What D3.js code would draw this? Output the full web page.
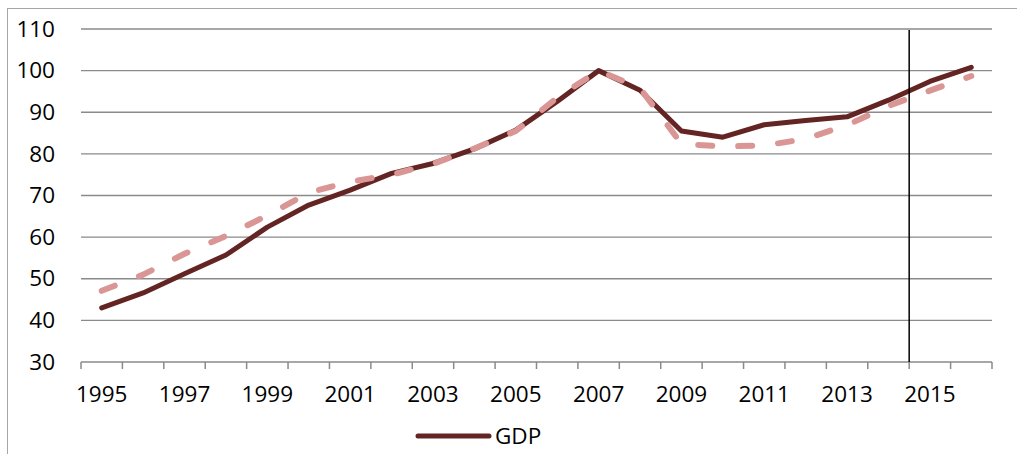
<!DOCTYPE html>
<html>
<head>
<meta charset="utf-8">
<script src="https://cdn.jsdelivr.net/npm/d3@7"></script>
<style>
  html, body { margin: 0; padding: 0; background: #fff; }
  svg { display: block; }
  text { font-family: "Open Sans", "Noto Sans", sans-serif; fill: #000; }
</style>
</head>
<body>
<svg id="chart" width="1017" height="454"></svg>
<script>
// Index values, 2007 = 100
const years = d3.range(1995, 2017).map(String);
const gdp = [43, 46.6, 51.2, 55.7, 62.4, 67.7, 71.3, 75.3, 77.7, 81.2, 85.7, 92.6,
             100, 95.3, 85.5, 84.0, 87.0, 88.0, 88.9, 92.9, 97.4, 100.8];
const gdpTrend = [47.1, 51.0, 56.0, 60.3, 65.2, 70.7, 73.3, 75.0, 77.6, 81.3, 85.5, 93.5,
                  100, 95.8, 82.4, 81.8, 82.0, 83.6, 86.9, 91.5, 95.2, 98.7];
const yTicks = [30, 40, 50, 60, 70, 80, 90, 100, 110];
const xLabelYears = years.filter((d, i) => i % 2 === 0);
const markerYear = "2015";
const legendLabel = "GDP";

const svg = d3.select("#chart");

// outer chart frame
svg.append("rect")
  .attr("x", 7.5).attr("y", 8.5)
  .attr("width", 1200).attr("height", 600)
  .attr("fill", "none").attr("stroke", "#a6a6a6").attr("stroke-width", 1);

const plotLeft = 81, plotRight = 992, plotTop = 29, plotBottom = 362;

const x = d3.scaleBand().domain(years).range([plotLeft, plotRight]).padding(0);
const y = d3.scaleLinear().domain([30, 110]).range([plotBottom, plotTop]);

// horizontal gridlines
svg.append("g")
  .selectAll("line")
  .data(yTicks.filter(v => v !== 30))
  .join("line")
  .attr("x1", plotLeft).attr("x2", plotRight)
  .attr("y1", d => y(d)).attr("y2", d => y(d))
  .attr("stroke", "#8a8a8a").attr("stroke-width", 1.4);

// y axis labels
const yAxis = svg.append("g")
  .attr("transform", `translate(${plotLeft},0)`)
  .call(d3.axisLeft(y).tickValues(yTicks).tickSize(0).tickPadding(26));
yAxis.select(".domain").remove();
yAxis.selectAll("text")
  .style("font-family", '"Open Sans", "Noto Sans", sans-serif')
  .style("font-size", "22.5px")
  .attr("fill", "#000");

// x axis line and boundary ticks
const xg = svg.append("g");
xg.append("line")
  .attr("x1", plotLeft).attr("x2", plotRight)
  .attr("y1", y(30)).attr("y2", y(30))
  .attr("stroke", "#8a8a8a").attr("stroke-width", 1.5);
xg.selectAll("line.tick")
  .data(d3.range(years.length + 1).map(i => x.range()[0] + i * x.step()))
  .join("line")
  .attr("class", "tick")
  .attr("x1", d => d).attr("x2", d => d)
  .attr("y1", y(30)).attr("y2", y(30) + 7)
  .attr("stroke", "#8a8a8a").attr("stroke-width", 1.5);

// x axis labels (every other year)
const xAxis = svg.append("g")
  .attr("transform", `translate(0,${y(30)})`)
  .call(d3.axisBottom(x).tickValues(xLabelYears).tickSize(0).tickPadding(24));
xAxis.select(".domain").remove();
xAxis.selectAll("text")
  .style("font-family", '"Open Sans", "Noto Sans", sans-serif')
  .style("font-size", "22.5px")
  .attr("fill", "#000");

const cx = d => x(d) + x.bandwidth() / 2;

// GDP series
const line = d3.line().x(d => cx(d.year)).y(d => y(d.value));
const gdpData = years.map((yr, i) => ({ year: yr, value: gdp[i] }));
const trendData = years.map((yr, i) => ({ year: yr, value: gdpTrend[i] }));

svg.append("path")
  .datum(gdpData)
  .attr("d", line)
  .attr("fill", "none")
  .attr("stroke", "#632523")
  .attr("stroke-width", 5)
  .attr("stroke-linejoin", "round")
  .attr("stroke-linecap", "round");

// trend series, dashed
svg.append("path")
  .datum(trendData)
  .attr("d", line)
  .attr("fill", "none")
  .attr("stroke", "#d99694")
  .attr("stroke-width", 6)
  .attr("stroke-dasharray", "14,26")
  .attr("stroke-linejoin", "round")
  .attr("stroke-linecap", "round");

// vertical marker line at the start of 2015
svg.append("line")
  .attr("x1", x(markerYear)).attr("x2", x(markerYear))
  .attr("y1", y(110) + 1).attr("y2", y(30))
  .attr("stroke", "#000").attr("stroke-width", 1.5);

// legend
const lg = svg.append("g");
lg.append("line")
  .attr("x1", 418).attr("x2", 489)
  .attr("y1", 436).attr("y2", 436)
  .attr("stroke", "#632523").attr("stroke-width", 5)
  .attr("stroke-linecap", "round");
lg.append("text")
  .attr("x", 495).attr("y", 443.5)
  .style("font-size", "22.5px")
  .text(legendLabel);
</script>
</body>
</html>
